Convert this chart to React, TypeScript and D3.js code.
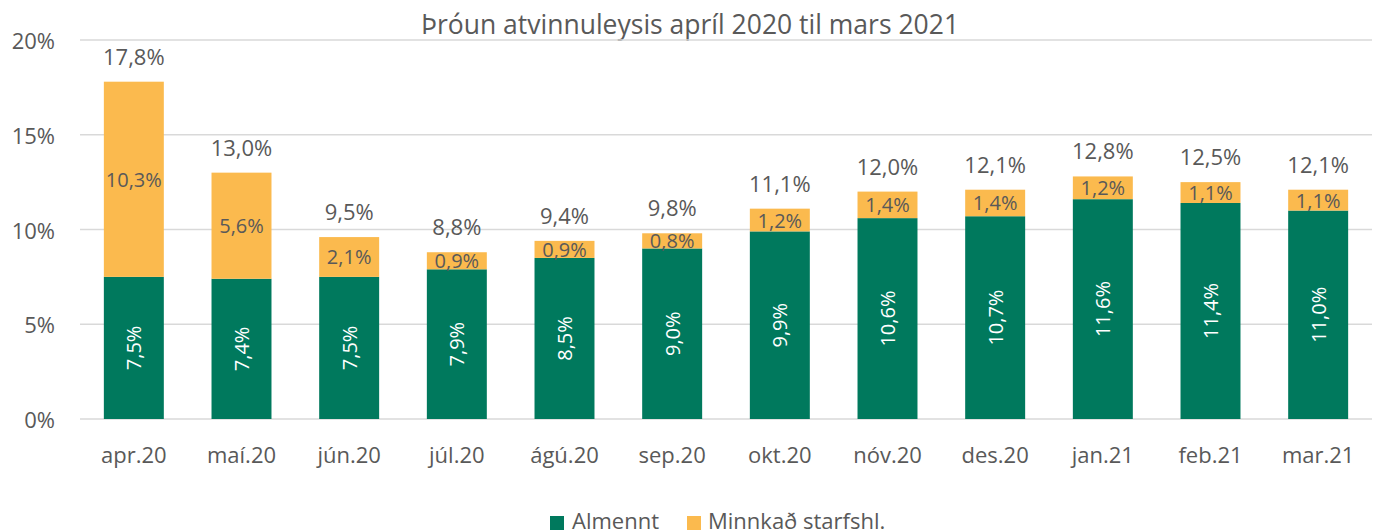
import React from "react";
import * as d3 from "d3";

const categories = ["apr.20", "maí.20", "jún.20", "júl.20", "ágú.20", "sep.20", "okt.20", "nóv.20", "des.20", "jan.21", "feb.21", "mar.21"];
const almennt = [7.5, 7.4, 7.5, 7.9, 8.5, 9.0, 9.9, 10.6, 10.7, 11.6, 11.4, 11.0];
const minnkad = [10.3, 5.6, 2.1, 0.9, 0.9, 0.8, 1.2, 1.4, 1.4, 1.2, 1.1, 1.1];
const totals = [17.8, 13.0, 9.5, 8.8, 9.4, 9.8, 11.1, 12.0, 12.1, 12.8, 12.5, 12.1];
const yTicks = [0, 5, 10, 15, 20];
const seriesNames = ["Almennt", "Minnkað starfshl."];
const title = "Þróun atvinnuleysis apríl 2020 til mars 2021";

const W = 1377, H = 531;
const GREEN = "#00795D", YELLOW = "#FBBA4E", TEXT = "#595959", GRID = "#D9D9D9";
const FONT = "'Open Sans', 'Noto Sans', sans-serif";

const fmt = (v: number) => v.toFixed(1).replace(".", ",") + "%";

export default function App() {
  const x = d3.scaleBand<string>().domain(categories).range([80, 1372]).paddingInner(0.443).paddingOuter(0.2215);
  const y = d3.scaleLinear().domain([0, 20]).range([419, 40]);
  const bw = x.bandwidth();
  return (
    <svg width={W} height={H} style={{ position: "absolute", left: 0, top: 0, background: "#fff" }} fontFamily={FONT}>
      <text x={690} y={34} textAnchor="middle" fontSize={26.5} fill={TEXT}>{title}</text>
      {yTicks.map((t) => (
        <g key={t}>
          <line x1={80} x2={1372} y1={y(t)} y2={y(t)} stroke={GRID} strokeWidth={1.5} />
          <text x={55} y={y(t) + 9} textAnchor="end" fontSize={22} fill={TEXT}>{t}%</text>
        </g>
      ))}
      {categories.map((c, i) => {
        const x0 = x(c)!;
        const cx = x0 + bw / 2;
        const a = almennt[i], m = minnkad[i];
        const yA = y(a), yT = y(a + m);
        return (
          <g key={c}>
            <rect x={x0} y={yA} width={bw} height={y(0) - yA} fill={GREEN} />
            <rect x={x0} y={yT} width={bw} height={yA - yT} fill={YELLOW} />
            <text transform={`translate(${cx + 7.5},${(yA + y(0)) / 2}) rotate(-90)`} textAnchor="middle" fontSize={20} fill="#fff">{fmt(a)}</text>
            <text x={cx} y={(yT + yA) / 2 + 7.5} textAnchor="middle" fontSize={20} fill={TEXT}>{fmt(m)}</text>
            <text x={cx} y={yT - 17} textAnchor="middle" fontSize={22} fill={TEXT}>{fmt(totals[i])}</text>
            <text x={cx} y={463} textAnchor="middle" fontSize={22} fill={TEXT}>{c}</text>
          </g>
        );
      })}
      <g>
        <rect x={550} y={516} width={14} height={14} fill={GREEN} />
        <text x={572} y={529} fontSize={22} fill={TEXT}>{seriesNames[0]}</text>
        <rect x={687} y={516} width={14} height={14} fill={YELLOW} />
        <text x={708} y={529} fontSize={22} fill={TEXT}>{seriesNames[1]}</text>
      </g>
    </svg>
  );
}
